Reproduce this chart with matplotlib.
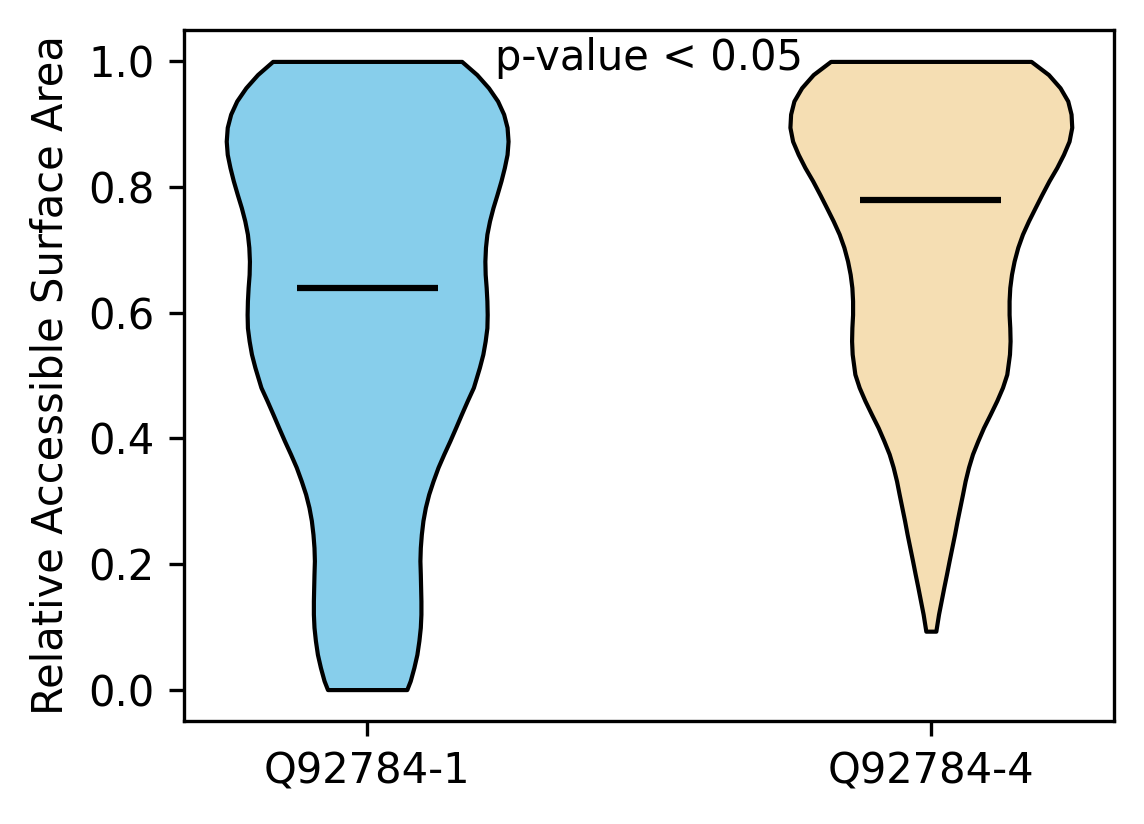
import matplotlib
matplotlib.use("Agg")
import matplotlib.pyplot as plt
import numpy as np

# isoform labels and colours
labels = ["Q92784-1", "Q92784-4"]
colors = ["skyblue", "wheat"]

# density profiles: RSA value and (unscaled) density
rsa_1 = [0.000, 0.014, 0.035, 0.056, 0.078, 0.099, 0.120, 0.141, 0.163, 0.184,
         0.205, 0.226, 0.247, 0.269, 0.290, 0.311, 0.332, 0.354, 0.375, 0.396,
         0.417, 0.438, 0.460, 0.481, 0.513, 0.534, 0.555, 0.576, 0.597, 0.619,
         0.640, 0.661, 0.682, 0.704, 0.725, 0.746, 0.767, 0.788, 0.810, 0.831,
         0.852, 0.873, 0.895, 0.916, 0.937, 0.958, 0.979, 1.000]
dens_1 = [39.3, 42.7, 46.3, 49.3, 51.3, 52.7, 53.3, 53.3, 53.0, 52.7,
          52.3, 52.7, 53.7, 55.3, 57.7, 61.0, 65.3, 70.3, 76.0, 82.0,
          87.7, 93.3, 99.3, 105.3, 111.3, 114.7, 117.0, 118.7, 119.0, 118.7,
          118.0, 117.0, 116.7, 117.3, 118.7, 121.3, 124.7, 128.7, 132.7, 136.0,
          138.7, 139.7, 138.7, 135.3, 129.3, 120.3, 108.7, 93.7]
mean_1 = 0.640

rsa_2 = [0.093, 0.120, 0.141, 0.163, 0.184, 0.205, 0.226, 0.247, 0.269, 0.290,
         0.311, 0.332, 0.354, 0.375, 0.396, 0.417, 0.438, 0.460, 0.481, 0.502,
         0.534, 0.555, 0.576, 0.597, 0.619, 0.640, 0.661, 0.682, 0.704, 0.725,
         0.746, 0.767, 0.788, 0.810, 0.831, 0.852, 0.873, 0.895, 0.916, 0.937,
         0.958, 0.979, 1.000]
dens_2 = [5.0, 7.7, 10.3, 13.0, 15.7, 18.3, 21.0, 23.7, 26.3, 29.0,
          31.7, 34.3, 37.7, 41.7, 47.0, 52.7, 59.3, 66.0, 71.7, 76.0,
          78.7, 79.3, 79.0, 78.3, 78.3, 79.0, 80.7, 83.3, 87.0, 91.7,
          97.7, 104.3, 111.0, 118.3, 126.0, 132.7, 138.3, 141.0, 140.3, 137.0,
          129.3, 117.7, 100.3]
mean_2 = 0.780

pvalue_text = "p-value < 0.05"


def make_stats(coords, vals, mean):
    coords = np.array(coords)
    return {"coords": coords, "vals": np.array(vals), "mean": mean,
            "median": mean, "min": coords.min(), "max": coords.max()}


vpstats = [make_stats(rsa_1, dens_1, mean_1), make_stats(rsa_2, dens_2, mean_2)]

fig = plt.figure(figsize=(1144 / 300, 824 / 300), dpi=300)
ax = fig.add_axes([0.1608, 0.125, 0.813, 0.8386])

parts = ax.violin(vpstats, positions=[1, 2], widths=0.5,
                  showmeans=True, showextrema=False, showmedians=False)
for body, c in zip(parts["bodies"], colors):
    body.set_facecolor(c)
    body.set_edgecolor("black")
    body.set_alpha(1)
parts["cmeans"].set_color("black")

ax.set_xticks([1, 2])
ax.set_xticklabels(labels)
ax.set_ylabel("Relative Accessible Surface Area")
ax.text(1.5, 1.005, pvalue_text, ha="center", va="center")

fig.savefig("out.png", dpi=300)
